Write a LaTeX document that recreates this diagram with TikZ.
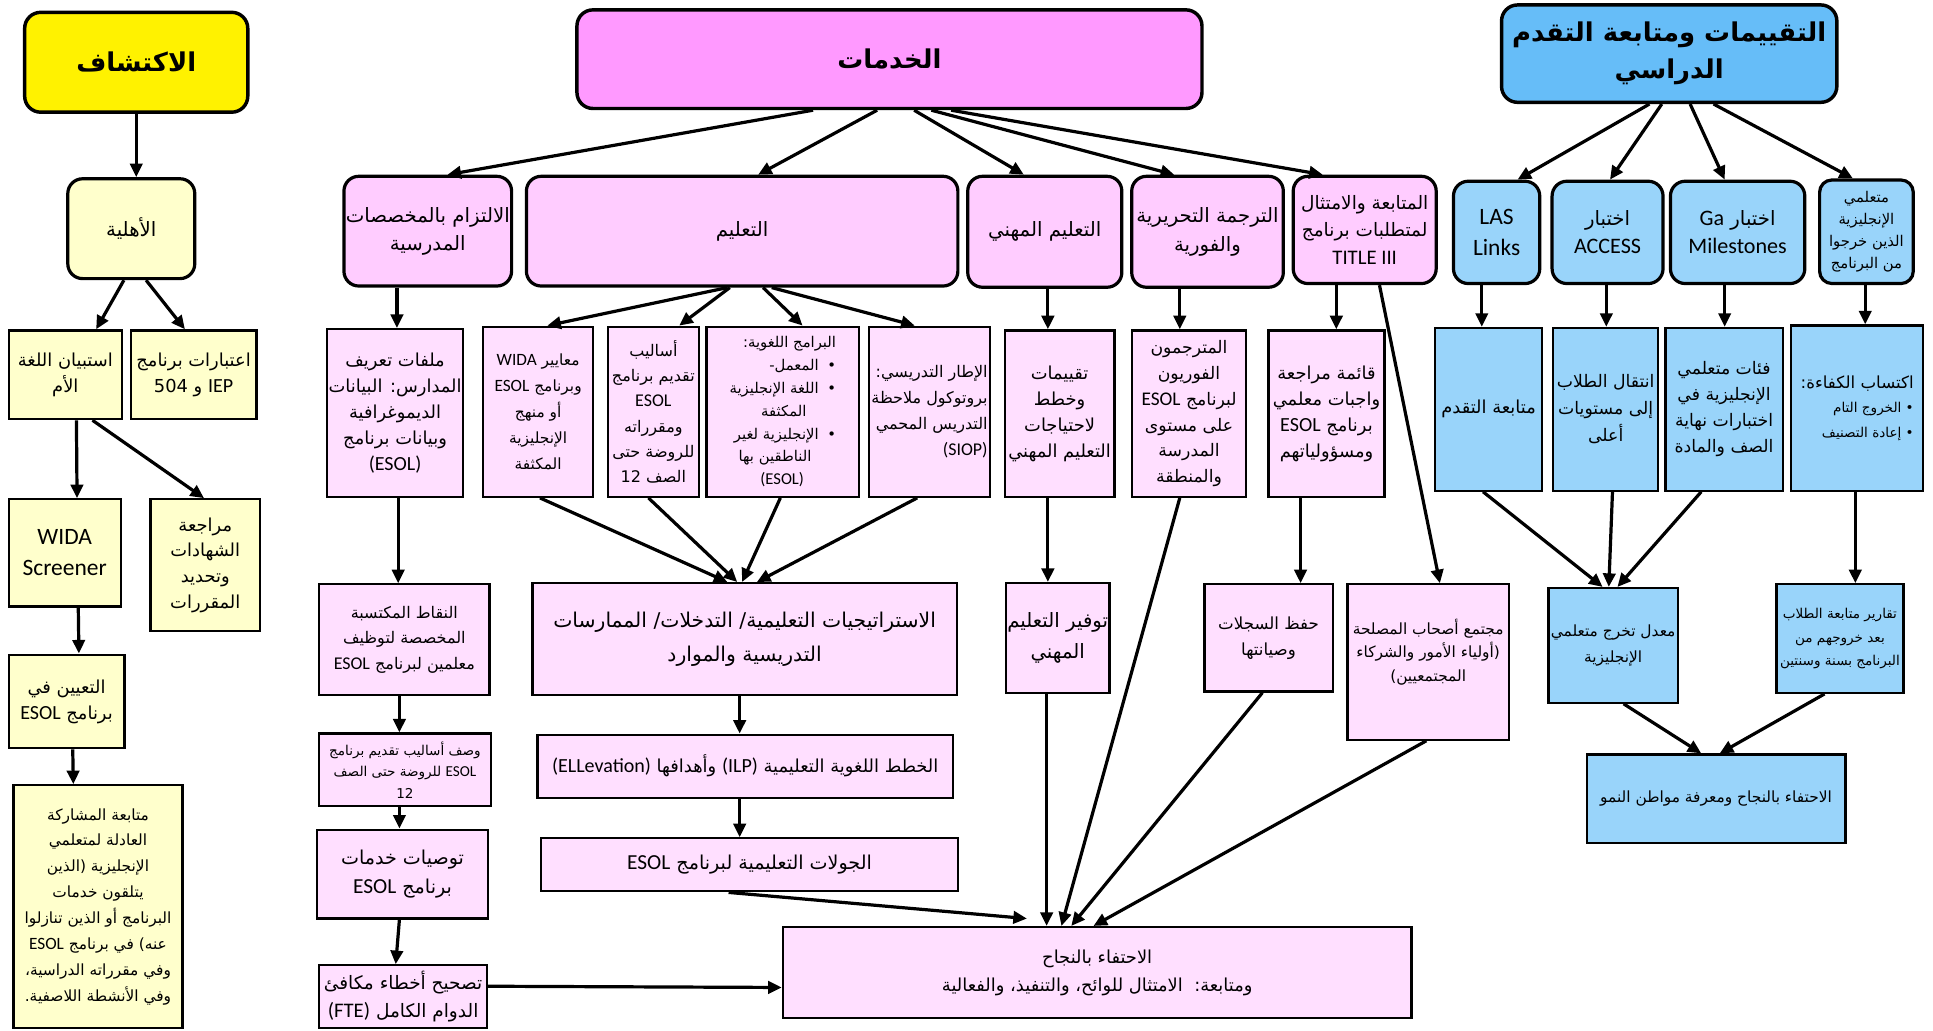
\documentclass[tikz,border=0pt]{standalone}
\usepackage{fontspec}
\setmainfont{DejaVu Sans}
\newfontfamily\arfont[Script=Arabic]{DejaVu Sans}
\newfontfamily\latfont[Scale=1.12]{Carlito}
\TeXXeTstate=1
\usetikzlibrary{arrows.meta}
\newcommand\rtl[1]{\beginR #1\endR}
\newcommand\ltr[1]{\beginL{\latfont #1}\endL}
\newcommand\fsz[2]{\fontsize{#1}{#2}\selectfont}
\newcommand\mybox[7]{\node[#2,minimum width={(#5)-(#3)},minimum height={(#6)-(#4)}] (#1) at ({((#3)+(#5))/2},{((#4)+(#6))/2}) {#7};}
\definecolor{ylw}{HTML}{FFF200}
\definecolor{lylw}{HTML}{FFFFCC}
\definecolor{pkh}{HTML}{FF99FF}
\definecolor{pkb}{HTML}{FFCCFF}
\definecolor{pkc}{HTML}{FFDFFF}
\definecolor{blh}{HTML}{66BDF8}
\definecolor{blb}{HTML}{99D4FA}
\tikzset{
  boxbase/.style={draw, align=center, inner sep=1pt, text=black},
  hdr/.style={boxbase, line width=2.8pt, rounded corners=13pt, font=\arfont\bfseries\fsz{21}{30}},
  rnd/.style={boxbase, line width=2.6pt, rounded corners=12pt, font=\arfont\fsz{16}{23}},
  sq/.style={boxbase, line width=1.8pt, font=\arfont\fsz{14.5}{21}},
  arr/.style={-{Triangle[length=11pt,width=10pt]}, line width=2.6pt},
}
\begin{document}
\begin{tikzpicture}[x=1pt,y=-1pt]
\fill[white] (0,0) rectangle (1568,836);
\useasboundingbox (0,0) rectangle (1568,836);
% ---------------- left column
\mybox{disc}{hdr,fill=ylw}{20}{10}{201}{91}{\rtl{الاكتشاف}}
\mybox{elig}{rnd,fill=lylw}{55}{145}{158}{226}{\rtl{الأهلية}}
\mybox{lang}{sq,fill=lylw}{7}{268}{99}{340}{\rtl{استبيان اللغة}\\\rtl{الأم}}
\mybox{iep}{sq,fill=lylw}{106}{268}{208}{340}{\rtl{اعتبارات برنامج}\\\rtl{\ltr{IEP} و 504}}
\mybox{wida}{sq,fill=lylw,font=\latfont\fsz{17}{25}}{7}{405}{98}{492}{WIDA\\Screener}
\mybox{cert}{sq,fill=lylw}{122}{405}{211}{512}{\rtl{مراجعة}\\\rtl{الشهادات}\\\rtl{وتحديد}\\\rtl{المقررات}}
\mybox{assign}{sq,fill=lylw}{7}{531}{101}{607}{\rtl{التعيين في}\\\rtl{برنامج \ltr{ESOL}}}
\mybox{equity}{sq,fill=lylw,font=\arfont\fsz{12.5}{21}}{11}{637}{148}{834}{\rtl{متابعة المشاركة}\\\rtl{العادلة لمتعلمي}\\\rtl{الإنجليزية (الذين}\\\rtl{يتلقون خدمات}\\\rtl{البرنامج أو الذين تنازلوا}\\\rtl{عنه) في برنامج \ltr{ESOL}}\\\rtl{وفي مقرراته الدراسية،}\\\rtl{وفي الأنشطة اللاصفية.}}
% ---------------- services
\mybox{serv}{hdr,fill=pkh}{468}{8}{975}{88}{\rtl{الخدمات}}
\mybox{comp}{rnd,fill=pkb}{279}{143}{415}{232}{\rtl{الالتزام بالمخصصات}\\\rtl{المدرسية}}
\mybox{teach}{rnd,fill=pkb}{427}{143}{777}{232}{\rtl{التعليم}}
\mybox{pd}{rnd,fill=pkb}{785}{143}{910}{233}{\rtl{التعليم المهني}}
\mybox{trans}{rnd,fill=pkb}{918}{143}{1041}{233}{\rtl{الترجمة التحريرية}\\\rtl{والفورية}}
\mybox{title}{rnd,fill=pkb,font=\arfont\fsz{15}{22}}{1049}{143}{1165}{230}{\rtl{المتابعة والامتثال}\\\rtl{لمتطلبات برنامج}\\\ltr{TITLE III}}
\mybox{files}{sq,fill=pkc}{266}{267}{375}{403}{\rtl{ملفات تعريف}\\\rtl{المدارس: البيانات}\\\rtl{الديموغرافية}\\\rtl{وبيانات برنامج}\\\ltr{(ESOL)}}
\mybox{std}{sq,fill=pkc,font=\arfont\fsz{12.5}{21}}{392}{265}{481}{403}{\rtl{معايير \ltr{WIDA}}\\\rtl{وبرنامج \ltr{ESOL}}\\\rtl{أو منهج}\\\rtl{الإنجليزية}\\\rtl{المكثفة}}
\mybox{meth}{sq,fill=pkc,font=\arfont\fsz{13}{20.5}}{493}{265}{567}{403}{\rtl{أساليب}\\\rtl{تقديم برنامج}\\\ltr{ESOL}\\\rtl{ومقرراته}\\\rtl{للروضة حتى}\\\rtl{الصف 12}}
\mybox{prog}{sq,fill=pkc,align=right,font=\arfont\fsz{12}{18.5}}{573}{265}{697}{403}{\rtl{البرامج اللغوية:}\\\rtl{\textbullet\hspace{7pt}المعمل-}\\\rtl{\textbullet\hspace{7pt}اللغة الإنجليزية}\\\rtl{\hspace{24pt}المكثفة}\\\rtl{\textbullet\hspace{7pt}الإنجليزية لغير}\\\rtl{\hspace{20pt}الناطقين بها}\\\rtl{\hspace{26pt}\ltr{(ESOL)}}}
\mybox{siop}{sq,fill=pkc,align=right,font=\arfont\fsz{13}{21}}{705}{265}{803}{403}{\rtl{الإطار التدريسي:}\\\rtl{بروتوكول ملاحظة}\\\rtl{التدريس المحمي}\\\ltr{(SIOP)}}
\mybox{pdplan}{sq,fill=pkc}{815}{268}{904}{403}{\rtl{تقييمات}\\\rtl{وخطط}\\\rtl{لاحتياجات}\\\rtl{التعليم المهني}}
\mybox{interp}{sq,fill=pkc,font=\arfont\fsz{14}{21}}{918}{268}{1011}{403}{\rtl{المترجمون}\\\rtl{الفوريون}\\\rtl{لبرنامج \ltr{ESOL}}\\\rtl{على مستوى}\\\rtl{المدرسة}\\\rtl{والمنطقة}}
\mybox{check}{sq,fill=pkc}{1029}{268}{1123}{403}{\rtl{قائمة مراجعة}\\\rtl{واجبات معلمي}\\\rtl{برنامج \ltr{ESOL}}\\\rtl{ومسؤولياتهم}}
\mybox{points}{sq,fill=pkc,font=\arfont\fsz{13}{21}}{259}{474}{397}{564}{\rtl{النقاط المكتسبة}\\\rtl{المخصصة لتوظيف}\\\rtl{معلمين لبرنامج \ltr{ESOL}}}
\mybox{strat}{sq,fill=pkc,font=\arfont\fsz{16.5}{27}}{432}{473}{776}{564}{\rtl{الاستراتيجيات التعليمية/ التدخلات/ الممارسات}\\\rtl{التدريسية والموارد}}
\mybox{pdprov}{sq,fill=pkc,font=\arfont\fsz{16}{25}}{816}{473}{900}{562}{\rtl{توفير التعليم}\\\rtl{المهني}}
\mybox{records}{sq,fill=pkc,font=\arfont\fsz{13.5}{21}}{977}{474}{1081}{561}{\rtl{حفظ السجلات}\\\rtl{وصيانتها}}
\mybox{stake}{sq,fill=pkc,font=\arfont\fsz{12.5}{19}}{1093}{474}{1224}{600}{\rtl{مجتمع أصحاب المصلحة}\\\rtl{(أولياء الأمور والشركاء}\\\rtl{المجتمعيين)}\\\mbox{}}
\mybox{desc}{sq,fill=pkc,font=\arfont\fsz{11}{17.5}}{259}{595}{398}{654}{\rtl{وصف أساليب تقديم برنامج}\\\rtl{\ltr{ESOL} للروضة حتى الصف}\\12}
\mybox{ilp}{sq,fill=pkc,font=\arfont\fsz{14.5}{21}}{436}{596}{773}{647}{\rtl{الخطط اللغوية التعليمية \ltr{(ILP)} وأهدافها \ltr{(ELLevation)}}}
\mybox{rec}{sq,fill=pkc,font=\arfont\fsz{15.5}{24}}{257}{673}{396}{745}{\rtl{توصيات خدمات}\\\rtl{برنامج \ltr{ESOL}}}
\mybox{tours}{sq,fill=pkc,font=\arfont\fsz{15.5}{22}}{439}{680}{777}{723}{\rtl{الجولات التعليمية لبرنامج \ltr{ESOL}}}
\mybox{fte}{sq,fill=pkc,font=\arfont\fsz{15}{23}}{259}{783}{395}{834}{\rtl{تصحيح أخطاء مكافئ}\\\rtl{الدوام الكامل \ltr{(FTE)}}}
\mybox{celeb}{sq,fill=pkc,font=\arfont\fsz{14.5}{23}}{635}{752}{1145}{826}{\rtl{الاحتفاء بالنجاح}\\\rtl{ومتابعة:\ \ الامتثال للوائح، والتنفيذ، والفعالية}}
% ---------------- assessments
\mybox{assess}{hdr,fill=blh}{1218}{4}{1490}{83}{\rtl{التقييمات ومتابعة التقدم}\\\rtl{الدراسي}}
\mybox{las}{rnd,fill=blb,font=\latfont\fsz{17}{25}}{1179}{147}{1249}{230}{LAS\\Links}
\mybox{access}{rnd,fill=blb}{1259}{147}{1349}{230}{\rtl{اختبار}\\\ltr{ACCESS}}
\mybox{ga}{rnd,fill=blb}{1355}{147}{1464}{230}{\rtl{اختبار \ltr{Ga}}\\\ltr{Milestones}}
\mybox{ex}{rnd,fill=blb,rounded corners=10pt,font=\arfont\fsz{12}{18}}{1476}{146}{1552}{230}{\rtl{متعلمي}\\\rtl{الإنجليزية}\\\rtl{الذين خرجوا}\\\rtl{من البرنامج}}
\mybox{prog2}{sq,fill=blb}{1164}{266}{1251}{398}{\rtl{متابعة التقدم}}
\mybox{trans2}{sq,fill=blb,font=\arfont\fsz{14}{22}}{1260}{266}{1345}{398}{\rtl{انتقال الطلاب}\\\rtl{إلى مستويات}\\\rtl{أعلى}}
\mybox{cat}{sq,fill=blb,font=\arfont\fsz{14}{21}}{1351}{266}{1446}{398}{\rtl{فئات متعلمي}\\\rtl{الإنجليزية في}\\\rtl{اختبارات نهاية}\\\rtl{الصف والمادة}}
\mybox{prof}{sq,fill=blb,align=right,font=\arfont\fsz{13.5}{20}}{1453}{264}{1560}{398}{\rtl{اكتساب الكفاءة:}\\{\fsz{11}{17}\rtl{\textbullet\ الخروج التام}}\\{\fsz{11}{17}\rtl{\textbullet\ إعادة التصنيف}}}
\mybox{grad}{sq,fill=blb,font=\arfont\fsz{12.5}{21}}{1256}{477}{1361}{570}{\rtl{معدل تخرج متعلمي}\\\rtl{الإنجليزية}}
\mybox{rep}{sq,fill=blb,font=\arfont\fsz{11}{19}}{1441}{474}{1544}{562}{\rtl{تقارير متابعة الطلاب}\\\rtl{بعد خروجهم من}\\\rtl{البرنامج بسنة وسنتين}}
\mybox{final}{sq,fill=blb,font=\arfont\fsz{12.5}{21}}{1287}{612}{1497}{684}{\rtl{الاحتفاء بالنجاح ومعرفة مواطن النمو}}
% ---------------- arrows: left
\draw[arr] (disc.south) -- (disc.south |- elig.north);
\draw[arr] ([xshift=-6pt]elig.south) -- ([xshift=25pt]lang.north);
\draw[arr] ([xshift=12pt]elig.south) -- ([xshift=-7pt]iep.north);
\draw[arr] ([xshift=9pt]lang.south) -- ([xshift=10pt]wida.north);
\draw[arr] ([xshift=22pt]lang.south) -- ([xshift=-1pt]cert.north);
\draw[arr] ([xshift=11pt]wida.south) -- ([xshift=10pt]assign.north);
\draw[arr] ([xshift=5pt]assign.south) -- ([xshift=-20pt]equity.north);
% services
\draw[arr] ([xshift=-62pt]serv.south) -- ([xshift=16pt]comp.north);
\draw[arr] ([xshift=-10pt]serv.south) -- ([xshift=13pt]teach.north);
\draw[arr] ([xshift=20pt]serv.south) -- ([xshift=-17pt]pd.north);
\draw[arr] ([xshift=34pt]serv.south) -- ([xshift=-27pt]trans.north);
\draw[arr] ([xshift=50pt]serv.south) -- ([xshift=-34pt]title.north);
\draw[arr] ([xshift=-25pt]comp.south) -- ([xshift=1.5pt]files.north);
\draw[arr] ([xshift=-12pt]teach.south) -- ([xshift=7.5pt]std.north);
\draw[arr] ([xshift=-10pt]teach.south) -- ([xshift=21pt]meth.north);
\draw[arr] ([xshift=17pt]teach.south) -- ([xshift=16pt]prog.north);
\draw[arr] ([xshift=24pt]teach.south) -- ([xshift=-12pt]siop.north);
\draw[arr] ([xshift=2.5pt]pd.south) -- ([xshift=-9.5pt]pdplan.north);
\draw[arr] ([xshift=-22.5pt]trans.south) -- ([xshift=-7.5pt]interp.north);
\draw[arr] ([xshift=-23pt]title.south) -- ([xshift=8pt]check.north);
\draw[arr] ([xshift=12pt]title.south) -- ([xshift=9.5pt]stake.north);
\draw[arr] ([xshift=2.5pt]files.south) -- ([xshift=-5pt]points.north);
\draw[arr] ([xshift=1.5pt]std.south) -- ([xshift=-14pt]strat.north);
\draw[arr] ([xshift=-4pt]meth.south) -- ([xshift=-6pt]strat.north);
\draw[arr] ([xshift=-2pt]prog.south) -- ([xshift=-2pt]strat.north);
\draw[arr] ([xshift=-10pt]siop.south) -- ([xshift=10pt]strat.north);
\draw[arr] ([xshift=-9.5pt]pdplan.south) -- ([xshift=-8pt]pdprov.north);
\draw[arr] ([xshift=-21pt]check.south) -- ([xshift=26pt]records.north);
\draw[arr] ([xshift=-4pt]points.south) -- ([xshift=-4.5pt]desc.north);
\draw[arr] ([xshift=-4.5pt]desc.south) -- ([xshift=-2.5pt]rec.north);
\draw[arr] ([xshift=-2.5pt]rec.south) -- ([xshift=-6pt]fte.north);
\draw[arr] ([xshift=-4pt]strat.south) -- ([xshift=-4.5pt]ilp.north);
\draw[arr] ([xshift=-4.5pt]ilp.south) -- ([xshift=-8pt]tours.north);
\draw[arr] ([yshift=8.5pt]fte.east) -- ([yshift=-12pt]celeb.west);
\draw[arr] ([xshift=-17pt]tours.south) -- ([xshift=-57pt,yshift=6pt]celeb.north);
\draw[arr] ([xshift=-9pt]pdprov.south) -- ([xshift=-41pt]celeb.north);
\draw[arr] ([xshift=-7.5pt]interp.south) -- ([xshift=-29pt]celeb.north);
\draw[arr] ([xshift=-5pt]records.south) -- ([xshift=-21pt]celeb.north);
\draw[arr] ([xshift=-1.5pt]stake.south) -- ([xshift=-3pt]celeb.north);
% assessments
\draw[arr] ([xshift=-16pt]assess.south) -- ([xshift=17pt]las.north);
\draw[arr] ([xshift=-6pt]assess.south) -- ([xshift=2pt]access.north);
\draw[arr] ([xshift=17pt]assess.south) -- ([xshift=-10.5pt]ga.north);
\draw[arr] ([xshift=36pt]assess.south) -- ([xshift=-11pt]ex.north);
\draw[arr] ([xshift=-12pt]las.south) -- ([xshift=-5.5pt]prog2.north);
\draw[arr] ([xshift=-1pt]access.south) -- ([xshift=0.5pt]trans2.north);
\draw[arr] ([xshift=-10.5pt]ga.south) -- ([xshift=0.5pt]cat.north);
\draw[arr] ([xshift=-1pt]ex.south) -- ([xshift=6.5pt]prof.north);
\draw[arr] ([xshift=-4.5pt]prog2.south) -- ([xshift=-8.5pt]grad.north);
\draw[arr] ([xshift=5.5pt]trans2.south) -- ([xshift=-3.5pt]grad.north);
\draw[arr] ([xshift=-18.5pt]cat.south) -- ([xshift=3.5pt]grad.north);
\draw[arr] ([xshift=-1.5pt]prof.south) -- ([xshift=12.5pt]rep.north);
\draw[arr] ([xshift=8.5pt]grad.south) -- ([xshift=-12pt]final.north);
\draw[arr] ([xshift=-12.5pt]rep.south) -- ([xshift=3pt]final.north);
\end{tikzpicture}
\end{document}
